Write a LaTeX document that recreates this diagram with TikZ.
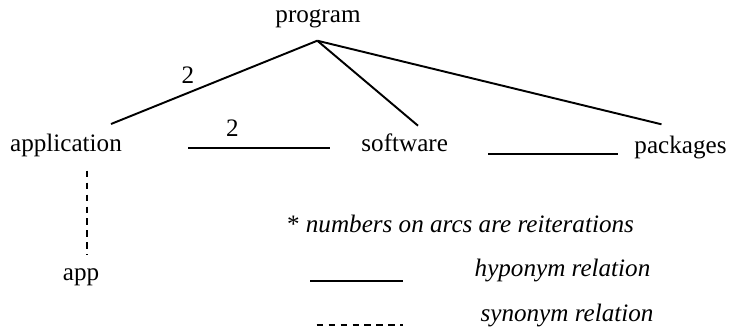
\documentclass[tikz,border=0pt]{standalone}
\usepackage{fontspec}
\setmainfont{Liberation Serif}
\usepackage{tikz}
\pgfdeclarelayer{edgelayer}
\pgfdeclarelayer{nodelayer}
\pgfsetlayers{edgelayer,nodelayer,main}
\tikzstyle{word}=[anchor=base,inner sep=0pt,font=\fontsize{14.3}{17}\selectfont]
\tikzstyle{note}=[word,font=\fontsize{14.3}{17}\selectfont\itshape]
\tikzstyle{reiteration}=[inner sep=0pt,font=\fontsize{14.3}{17}\selectfont]
\tikzstyle{hyponym}=[draw=black,line width=1.1pt]
\tikzstyle{synonym}=[draw=black,line width=1pt,dash pattern=on 3.6pt off 3.2pt]

\begin{document}
\begin{tikzpicture}[x=0.02cm,y=-0.02cm]
	\useasboundingbox (0,0) rectangle (734,335);
	\begin{pgfonlayer}{nodelayer}
		\node [style=word] (0) at (318, 22) {program};
		\node [style=word] (1) at (66, 151) {application};
		\node [style=word] (2) at (404.7, 151.7) {software};
		\node [style=word] (3) at (680.5, 153.3) {packages};
		\node [style=word] (4) at (81, 280) {app};
		\node [style=word] (5) at (460.5, 232.7) {* \textit{numbers on arcs are reiterations}};
		\node [style=note] (6) at (562.5, 276) {hyponym relation};
		\node [style=note] (7) at (567, 321.7) {synonym relation};
		% line ends
		\coordinate (8) at (317.3, 40.7);
		\coordinate (9) at (111, 124);
		\coordinate (10) at (418, 125.7);
		\coordinate (11) at (661.5, 124.3);
		\coordinate (12) at (188, 147.7);
		\coordinate (13) at (330, 147.7);
		\coordinate (14) at (488, 154.3);
		\coordinate (15) at (618, 154.3);
		\coordinate (16) at (86.7, 170.7);
		\coordinate (17) at (86.7, 255);
		\coordinate (18) at (310, 280.7);
		\coordinate (19) at (402.7, 280.7);
		\coordinate (20) at (316.7, 325);
		\coordinate (21) at (402.7, 325);
	\end{pgfonlayer}
	\begin{pgfonlayer}{edgelayer}
		\draw [style=hyponym] (8) to node[style=reiteration, pos=0.627, above=0.16cm]{2} (9);
		\draw [style=hyponym] (8) to (10);
		\draw [style=hyponym] (8) to (11);
		\draw [style=hyponym] (12) to node[style=reiteration, pos=0.313, above=0.21cm]{2} (13);
		\draw [style=hyponym] (14) to (15);
		\draw [style=synonym] (16) to (17);
		\draw [style=hyponym] (18) to (19);
		\draw [style=synonym] (20) to (21);
	\end{pgfonlayer}
\end{tikzpicture}
\end{document}
